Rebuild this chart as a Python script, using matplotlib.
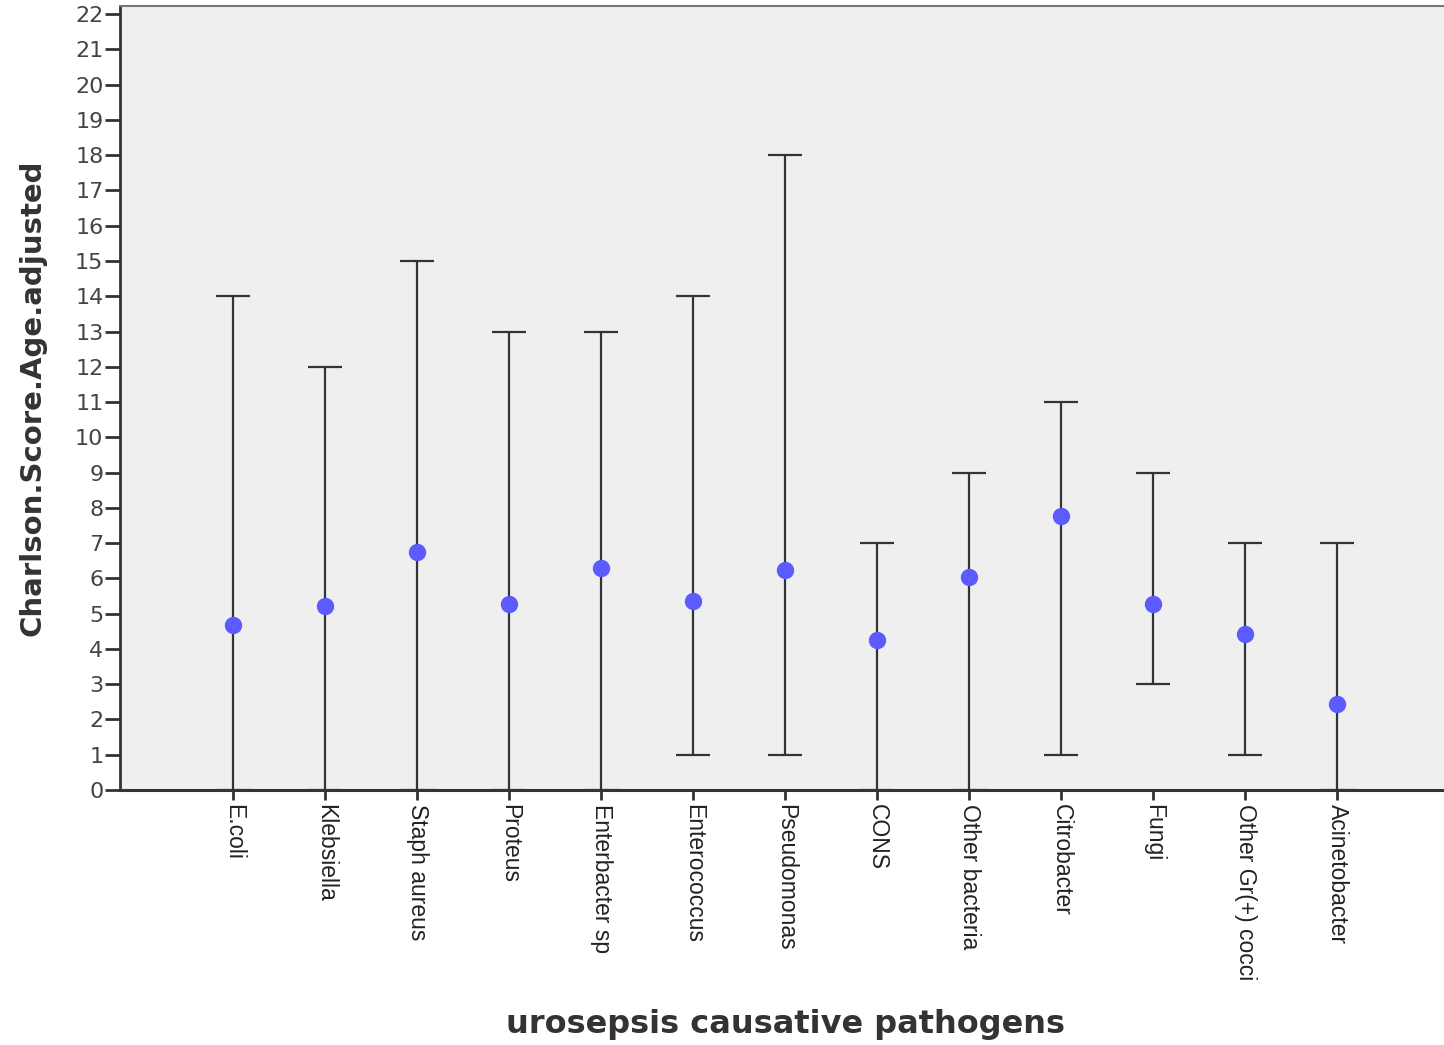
import matplotlib.pyplot as plt
import numpy as np

# Charlson score (age adjusted) by causative pathogen: mean with min-max range
pathogens = ['E.coli', 'Klebsiella', 'Staph aureus', 'Proteus', 'Enterbacter sp',
             'Enterococcus', 'Pseudomonas', 'CONS', 'Other bacteria', 'Citrobacter',
             'Fungi', 'Other Gr(+) cocci', 'Acinetobacter']
mean_score = [4.67, 5.21, 6.74, 5.27, 6.29, 5.35, 6.23, 4.25, 6.03, 7.76, 5.27, 4.42, 2.44]
min_score = [0, 0, 0, 0, 0, 1, 1, 0, 0, 1, 3, 1, 0]
max_score = [14, 12, 15, 13, 13, 14, 18, 7, 9, 11, 9, 7, 7]

x = np.arange(len(pathogens))
mean_score = np.array(mean_score)
lower = mean_score - np.array(min_score)
upper = np.array(max_score) - mean_score

fig = plt.figure(figsize=(14.44, 10.45), dpi=100)
ax = fig.add_axes([0.0831, 0.244, 0.9169, 0.7503])
ax.set_facecolor('#efefef')

# range bars first, then the mean dots on top
ax.errorbar(x, mean_score, yerr=[lower, upper], fmt='none', ecolor='#333333',
            elinewidth=1.6, capsize=12, capthick=1.6, zorder=2)
ax.plot(x, mean_score, 'o', color='#5b5bff', markersize=11.5, zorder=3)

ax.set_xlim(-1.23, 13.16)
ax.set_ylim(0, 22.23)
ax.set_yticks(range(0, 23))
ax.set_xticks(x)
ax.set_xticklabels(pathogens, rotation=270, family=['Liberation Sans', 'DejaVu Sans'],
                   fontsize=16.5, color='#222222')

for lab in ax.get_yticklabels():
    lab.set_fontsize(16)
    lab.set_color('#444444')

ax.tick_params(axis='y', length=11, width=2, color='#333333', pad=1)
ax.tick_params(axis='x', length=7, width=2, color='#333333', pad=3)

ax.spines['right'].set_visible(False)
ax.spines['top'].set_color('#777777')
ax.spines['top'].set_linewidth(1.5)
ax.spines['left'].set_color('#333333')
ax.spines['left'].set_linewidth(2)
ax.spines['bottom'].set_color('#333333')
ax.spines['bottom'].set_linewidth(2.2)

fig.text(33 / 1444, 1 - 398 / 1045, 'Charlson.Score.Age.adjusted', rotation=90,
         ha='center', va='center', fontsize=21, fontweight='bold', color='#333333')
fig.text(785 / 1444, 1 - 1025 / 1045, 'urosepsis causative pathogens',
         ha='center', va='center', fontsize=23, fontweight='bold', color='#333333')

plt.savefig('out.png', dpi=100)
